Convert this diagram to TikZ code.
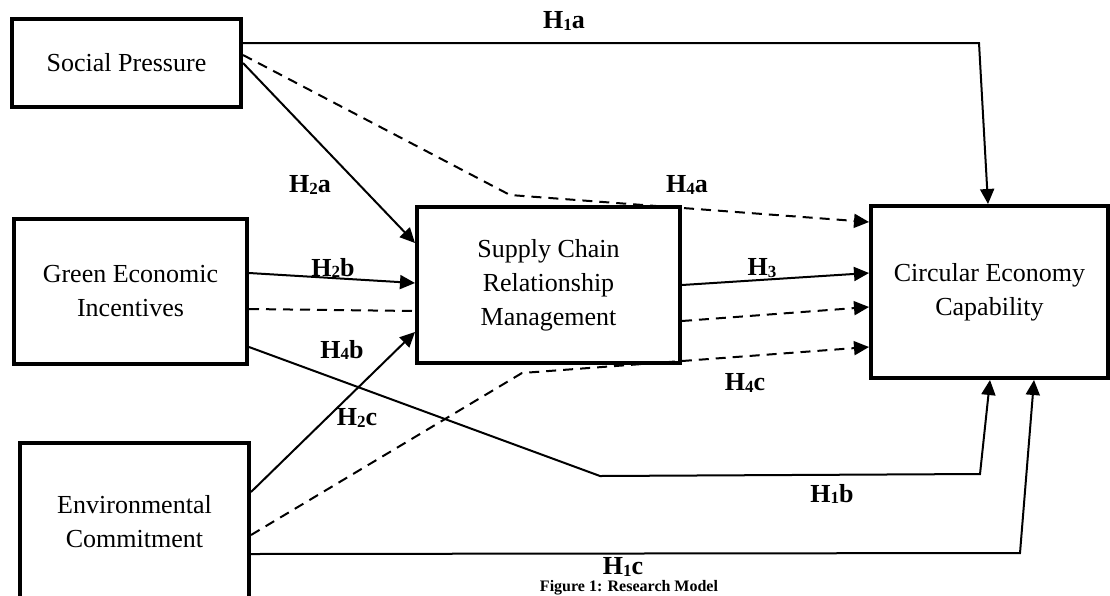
\documentclass[tikz,border=0pt]{standalone}
\usepackage{fontspec}
\setmainfont{Liberation Serif}
\usetikzlibrary{arrows.meta}
\newcommand\hyp[2]{H\raisebox{-1.5pt}{\fontsize{17}{17}\selectfont #1}#2}
\begin{document}
\begin{tikzpicture}[x=1pt,y=-1pt,
  box/.style={draw, line width=4pt, align=center, inner sep=0pt, font=\fontsize{26}{34}\selectfont},
  conn/.style={line width=2pt, line join=miter, -{Triangle[length=15pt,width=14pt]}},
  plain/.style={line width=2pt},
  dsh/.style={dash pattern=on 10pt off 7pt},
  lbl/.style={font=\fontsize{26}{26}\selectfont\bfseries, inner sep=0pt}]
\useasboundingbox (0,0) rectangle (1110,595);

% boxes
\node[box, minimum width=229pt, minimum height=88pt] (sp) at (126.5,63) {Social Pressure};
\node[box, minimum width=233pt, minimum height=145pt] (gei) at (130.5,291.5) {Green Economic\\Incentives};
\node[box, minimum width=229pt, minimum height=158pt] (ec) at (134.5,522) {Environmental\\Commitment};
\node[box, minimum width=263pt, minimum height=156pt] (scrm) at (548.5,285) {Supply Chain\\Relationship\\Management};
\node[box, minimum width=237pt, minimum height=172pt] (cec) at (989.5,292) {Circular Economy\\Capability};

% bend points
\coordinate (b1a) at (979,43);
\coordinate (b4a) at (510,195);
\coordinate (b1b1) at (600,476);
\coordinate (b1b2) at (980,474);
\coordinate (b4c) at (522,373);
\coordinate (b1c) at (1020,553);

% connectors
\draw[conn] (sp.east |- 0,43) -- (b1a) -- (cec.north -| 988,0);
\draw[conn,dsh] (sp.east |- 0,55) -- (b4a) -- (cec.west |- 0,222);
\draw[conn] (sp.east |- 0,63) -- (scrm.west |- 0,243);
\draw[conn] (gei.east |- 0,273) -- (scrm.west |- 0,283);
\draw[plain,dsh] (gei.east |- 0,309) -- (scrm.west |- 0,311);
\draw[conn,dsh] (scrm.east |- 0,321) -- (cec.west |- 0,307);
\draw[conn] (scrm.east |- 0,285) -- (cec.west |- 0,273);
\draw[conn] (gei.east |- 0,347) -- (b1b1) -- (b1b2) -- (cec.south -| 990,0);
\draw[conn] (ec.east |- 0,492) -- (scrm.west |- 0,332);
\draw[conn,dsh] (ec.east |- 0,535) -- (b4c) -- (cec.west |- 0,347);
\draw[conn] (ec.east |- 0,554) -- (b1c) -- (cec.south -| 1034,0);

% labels
\node[lbl] (l1a) at (564,21) {\hyp{1}{a}};
\node[lbl] (l2a) at (310,185) {\hyp{2}{a}};
\node[lbl] (l4a) at (687,185) {\hyp{4}{a}};
\node[lbl] (l2b) at (333,268) {\hyp{2}{b}};
\node[lbl] (l3) at (762,268) {\hyp{3}{}};
\node[lbl] (l4b) at (342,350) {\hyp{4}{b}};
\node[lbl] (l4c) at (745,383) {\hyp{4}{c}};
\node[lbl] (l2c) at (357,418) {\hyp{2}{c}};
\node[lbl] (l1b) at (832,494) {\hyp{1}{b}};
\node[lbl] (l1c) at (623,567) {\hyp{1}{c}};
\node[font=\fontsize{16}{16}\selectfont\bfseries, anchor=base, inner sep=0pt] (cap) at (629,591) {Figure 1: Research Model};
\end{tikzpicture}
\end{document}
